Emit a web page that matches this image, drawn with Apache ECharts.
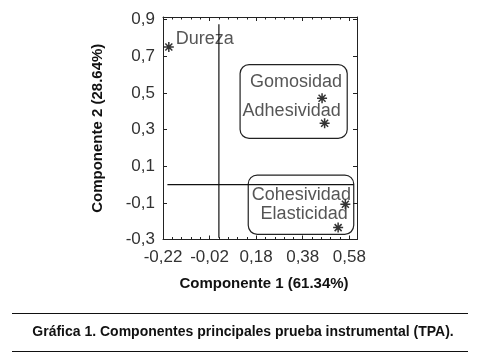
<!DOCTYPE html>
<html>
<head>
<meta charset="utf-8">
<script src="https://cdn.jsdelivr.net/npm/echarts@6/dist/echarts.min.js"></script>
<style>html,body{margin:0;padding:0;background:#fff}#c{width:480px;height:354px}</style>
</head>
<body>
<div id="c"></div>
<script>
// ---- data ----
var names = ['Dureza', 'Gomosidad', 'Adhesividad', 'Cohesividad', 'Elasticidad'];
var comp1 = [-0.195, 0.463, 0.474, 0.563, 0.532];
var comp2 = [0.751, 0.471, 0.335, -0.107, -0.235];
var xTicks = [-0.22, -0.02, 0.18, 0.38, 0.58];
var yTicks = [-0.3, -0.1, 0.1, 0.3, 0.5, 0.7, 0.9];
// grouping boxes [x1, y1, x2, y2]
var box1 = [0.111, 0.655, 0.571, 0.252];
var box2 = [0.146, 0.052, 0.599, -0.272];
// reference lines
var vLine = [[0.02, -0.29], [0.02, 0.875]];
var hLine = [[-0.201, 0.0], [0.599, 0.0]];
var labelOffsets = [[36, -8], [-26, -16], [-33, -12], [-44, -9], [-34, -14]];

var FONT = 'Liberation Sans, Arial, sans-serif';
function fmt(v, ticks) {
  for (var i = 0; i < ticks.length; i++) {
    if (Math.abs(v - ticks[i]) < 1e-6) return ticks[i].toFixed(ticks === xTicks ? 2 : 1).replace('.', ',');
  }
  return '';
}

var chart = echarts.init(document.getElementById('c'), null, {renderer: 'canvas'});
var axisCommon = {
  type: 'value',
  axisLine: {show: true, onZero: false, lineStyle: {color: '#222', width: 1}},
  splitLine: {show: false},
  axisTick: {show: true, inside: true, length: 4, lineStyle: {color: '#222'}}
};
var pts = comp1.map(function (x, i) {
  return {value: [x, comp2[i]], name: names[i],
    label: {show: true, formatter: names[i], position: 'inside', offset: labelOffsets[i]}};
});

chart.setOption({
  animation: false,
  backgroundColor: '#fff',
  grid: {left: 163, right: 123, top: 17, bottom: 114.5},
  xAxis: [
    Object.assign({}, axisCommon, {
      min: -0.22, max: 0.613, interval: 0.2, position: 'bottom',
      minorTick: {show: true, splitNumber: 5, length: 2.5, lineStyle: {color: '#222'}},
      axisLabel: {color: '#333', fontSize: 17, fontFamily: FONT, margin: 9,
        formatter: function (v) { return fmt(v, xTicks); }},
      name: 'Componente 1 (61.34%)', nameLocation: 'middle', nameGap: 37,
      nameTextStyle: {fontFamily: FONT, fontWeight: 'bold', fontSize: 15, color: '#111', padding: [0, 0, 0, 8]}
    }),
    Object.assign({}, axisCommon, {
      min: -0.22, max: 0.613, interval: 0.2, position: 'top',
      minorTick: {show: true, splitNumber: 5, length: 2.5, lineStyle: {color: '#222'}},
      axisLabel: {show: false}
    })
  ],
  yAxis: [
    Object.assign({}, axisCommon, {
      min: -0.3, max: 0.915, interval: 0.2, position: 'left',
      axisLabel: {color: '#333', fontSize: 17, fontFamily: FONT, margin: 8,
        formatter: function (v) { return fmt(v, yTicks); }},
      name: 'Componente 2 (28.64%)', nameLocation: 'middle', nameGap: 58, nameRotate: 90,
      nameTextStyle: {fontFamily: FONT, fontWeight: 'bold', fontSize: 15, color: '#111'}
    }),
    Object.assign({}, axisCommon, {
      min: -0.3, max: 0.915, interval: 0.2, position: 'right',
      axisLabel: {show: false}
    })
  ],
  series: [
    {
      type: 'line', data: vLine, symbol: 'none', silent: true,
      lineStyle: {color: '#111', width: 1.2}
    },
    {
      type: 'line', data: hLine, symbol: 'none', silent: true,
      lineStyle: {color: '#111', width: 1.2}
    },
    {
      type: 'custom', silent: true,
      data: [box1, box2],
      renderItem: function (params, api) {
        var p1 = api.coord([api.value(0), api.value(1)]);
        var p2 = api.coord([api.value(2), api.value(3)]);
        return {
          type: 'rect',
          shape: {x: Math.min(p1[0], p2[0]), y: Math.min(p1[1], p2[1]),
            width: Math.abs(p2[0] - p1[0]), height: Math.abs(p2[1] - p1[1]), r: 9},
          style: {fill: 'none', stroke: '#222', lineWidth: 1.2}
        };
      }
    },
    {
      type: 'scatter', data: pts,
      symbol: 'path://M0,-10L0,10M-10,0L10,0M-7,-7L7,7M-7,7L7,-7',
      symbolSize: 10,
      itemStyle: {color: '#000', borderColor: '#000', borderWidth: 1.5},
      label: {color: '#2a2a2a', fontSize: 18, fontFamily: FONT}
    }
  ],
  graphic: [
    {type: 'line', shape: {x1: 12, y1: 313.5, x2: 468, y2: 313.5}, style: {stroke: '#111', lineWidth: 1}},
    {type: 'line', shape: {x1: 12, y1: 351.5, x2: 468, y2: 351.5}, style: {stroke: '#111', lineWidth: 1}},
    {type: 'text', x: 243, y: 332, style: {text: 'Gráfica 1. Componentes principales prueba instrumental (TPA).',
      fontFamily: FONT, fontWeight: 'bold', fontSize: 14, fill: '#111', align: 'center', verticalAlign: 'middle'}}
  ]
});
</script>
</body>
</html>
